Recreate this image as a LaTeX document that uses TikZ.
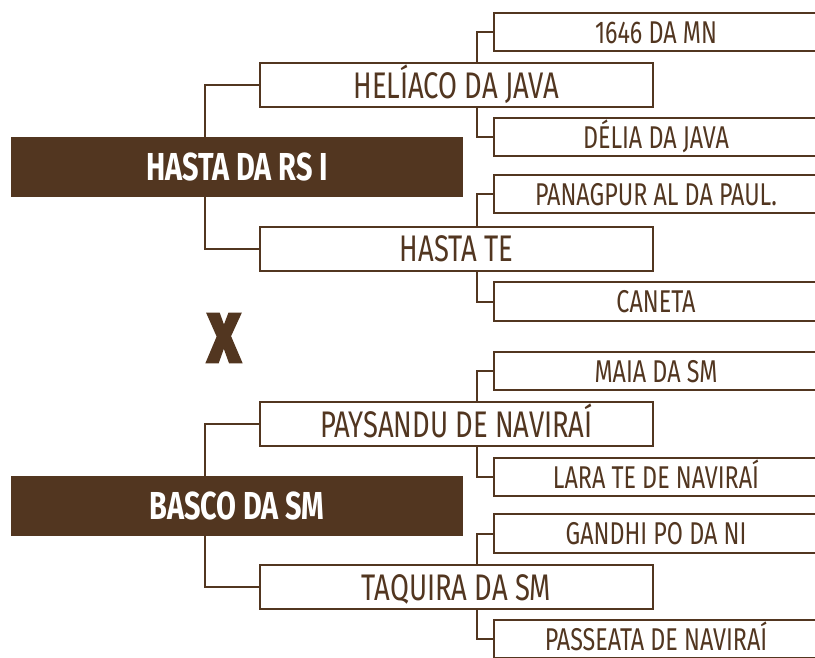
\documentclass[tikz,border=0pt]{standalone}
\usepackage{fontspec}
\newfontfamily\condf[FakeStretch=0.74]{Fira Sans}
\newfontfamily\xf[FakeStretch=0.8]{Fira Sans Bold}
\definecolor{brn}{HTML}{523620}
\tikzset{
  mainbox/.style={fill=brn, text=white, minimum width=452pt, minimum height=60pt, inner sep=0pt,
    font=\condf\bfseries\fontsize{39}{39}\selectfont, text height=27pt, text depth=0pt},
  midbox/.style={draw=brn, line width=2pt, fill=white, text=brn, minimum width=393pt, minimum height=44pt, inner sep=0pt,
    font=\condf\fontsize{37}{37}\selectfont, text height=26pt, text depth=0pt},
  leafbox/.style={text=brn, minimum width=324pt, minimum height=38pt, inner sep=0pt,
    font=\condf\fontsize{31.5}{31.5}\selectfont, text height=22pt, text depth=0pt},
  conn/.style={draw=brn, line width=2pt},
  leafedge/.style={draw=brn, line width=2pt}
}
\begin{document}
\begin{tikzpicture}[x=1pt, y=-1pt]
\useasboundingbox (0,0) rectangle (815,657);
% top tree
\node[mainbox] (m1) at (237,167) {HASTA DA RS I};
\node[midbox] (a) at (456.5,85) {HELÍACO DA JAVA};
\node[midbox] (b) at (456.5,248.5) {HASTA TE};
\node[leafbox] (a1) at (656,32) {1646 DA MN};
\node[leafbox] (a2) at (656,137) {DÉLIA DA JAVA};
\node[leafbox] (b1) at (656,194) {PANAGPUR AL DA PAUL.};
\node[leafbox] (b2) at (656,301.5) {CANETA};
% X
\node[text=brn, font=\xf\fontsize{68}{68}\selectfont, inner sep=0pt] (x) at (224,338) {\special{pdf:literal direct 2 Tr 3.5 w}X\special{pdf:literal direct 0 Tr}};
% bottom tree
\node[mainbox] (m2) at (237,506) {BASCO DA SM};
\node[midbox] (c) at (456.5,424) {PAYSANDU DE NAVIRAÍ};
\node[midbox] (d) at (456.5,587) {TAQUIRA DA SM};
\node[leafbox] (c1) at (656,371) {MAIA DA SM};
\node[leafbox] (c2) at (656,477) {LARA TE DE NAVIRAÍ};
\node[leafbox] (d1) at (656,533.5) {GANDHI PO DA NI};
\node[leafbox] (d2) at (656,639) {PASSEATA DE NAVIRAÍ};
% leaf box edges (open on the right, running off the page)
\foreach \n in {a1,a2,b1,b2,c1,c2,d1,d2}
  \draw[leafedge] ([xshift=40pt]\n.north east) -- (\n.north west) -- (\n.south west) -- ([xshift=40pt]\n.south east);
% connectors main -> mid
\draw[conn] ([xshift=194pt]m1.north west) |- (a.west);
\draw[conn] ([xshift=194pt]m1.south west) |- (b.west);
\draw[conn] ([xshift=194pt]m2.north west) |- (c.west);
\draw[conn] ([xshift=194pt]m2.south west) |- (d.west);
% connectors mid -> leaf
\draw[conn] ([xshift=218pt]a.north west) |- (a1.west);
\draw[conn] ([xshift=218pt]a.south west) |- (a2.west);
\draw[conn] ([xshift=218pt]b.north west) |- (b1.west);
\draw[conn] ([xshift=218pt]b.south west) |- (b2.west);
\draw[conn] ([xshift=218pt]c.north west) |- (c1.west);
\draw[conn] ([xshift=218pt]c.south west) |- (c2.west);
\draw[conn] ([xshift=218pt]d.north west) |- (d1.west);
\draw[conn] ([xshift=218pt]d.south west) |- (d2.west);
\end{tikzpicture}
\end{document}
